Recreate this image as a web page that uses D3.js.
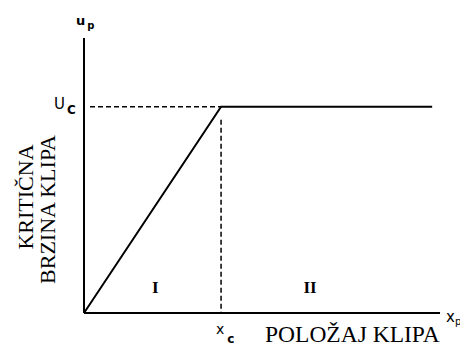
<!DOCTYPE html>
<html><head><meta charset="utf-8">
<script src="https://cdn.jsdelivr.net/npm/d3@7"></script>
<style>body{margin:0;background:#fff}svg{display:block}</style>
</head><body>
<script>
const xPos = [0, 0.385, 0.978];
const uVal = [0, 0.75, 0.75];
const xcVal = 0.385, ucVal = 0.75;
const regionLabels = ["I", "II"];
const regionX = [0.2, 0.635];

const W = 460, H = 346;
const svg = d3.select("body").append("svg").attr("width", W).attr("height", H);
const x = d3.scaleLinear().domain([0, 1]).range([84, 440]);
const y = d3.scaleLinear().domain([0, 1]).range([313, 38]);

// axes
svg.append("line").attr("x1", x(0)).attr("x2", x(0)).attr("y1", y(0)).attr("y2", y(1))
  .attr("stroke", "#000").attr("stroke-width", 2);
svg.append("line").attr("x1", x(0)).attr("x2", x(1)).attr("y1", y(0)).attr("y2", y(0))
  .attr("stroke", "#000").attr("stroke-width", 2);

// dashed guides
svg.append("line").attr("x1", x(0) + 6).attr("x2", x(xcVal)).attr("y1", y(ucVal)).attr("y2", y(ucVal))
  .attr("stroke", "#000").attr("stroke-width", 1.5).attr("stroke-dasharray", "5,3");
svg.append("line").attr("x1", x(xcVal)).attr("x2", x(xcVal)).attr("y1", y(ucVal) + 13).attr("y2", y(0))
  .attr("stroke", "#000").attr("stroke-width", 1.5).attr("stroke-dasharray", "5,3");

// curve
const line = d3.line().x((d, i) => x(xPos[i])).y((d, i) => y(uVal[i]));
svg.append("path").datum(xPos).attr("d", line).attr("fill", "none")
  .attr("stroke", "#000").attr("stroke-width", 2);

// labels (sans)
const sans = "DejaVu Sans, sans-serif";
const up = svg.append("text").attr("x", 76).attr("y", 25).attr("font-family", sans).attr("font-size", 13).attr("font-weight", "bold");
up.append("tspan").text("u");
up.append("tspan").attr("font-size", 10).attr("dx", 2).attr("dy", 4).text("p");

const uc = svg.append("text").attr("x", 54).attr("y", 109).attr("font-family", sans).attr("font-size", 15);
uc.append("tspan").text("U");
uc.append("tspan").attr("font-size", 12).attr("dx", 2).attr("dy", 5).attr("font-weight", "bold").text("C");

const xc = svg.append("text").attr("x", 216).attr("y", 334).attr("font-family", sans).attr("font-size", 14);
xc.append("tspan").text("x");
xc.append("tspan").attr("font-size", 12).attr("dx", 3).attr("dy", 9).attr("font-weight", "bold").text("c");

const xl = svg.append("text").attr("x", 446).attr("y", 322).attr("font-family", sans).attr("font-size", 15);
xl.append("tspan").text("x");
xl.append("tspan").attr("font-size", 10).attr("dy", 3).text("p");

// region labels (serif bold)
const serif = "Liberation Serif, Times New Roman, serif";
svg.selectAll("text.reg").data(regionLabels).enter().append("text")
  .attr("class", "reg").attr("x", (d, i) => x(regionX[i])).attr("y", 293)
  .attr("text-anchor", "middle").attr("font-family", serif).attr("font-weight", "bold").attr("font-size", 17)
  .text(d => d);

svg.append("text").attr("x", 265).attr("y", 342)
  .attr("font-family", serif).attr("font-size", 23.5).text("POLOŽAJ KLIPA");

const yl = svg.append("g").attr("transform", "rotate(-90)");
yl.append("text").attr("x", -197).attr("y", 33).attr("text-anchor", "middle")
  .attr("font-family", serif).attr("font-size", 22).text("KRITIČNA");
yl.append("text").attr("x", -135).attr("y", 55).attr("text-anchor", "end")
  .attr("font-family", serif).attr("font-size", 22).text("BRZINA KLIPA");
</script>
</body></html>
